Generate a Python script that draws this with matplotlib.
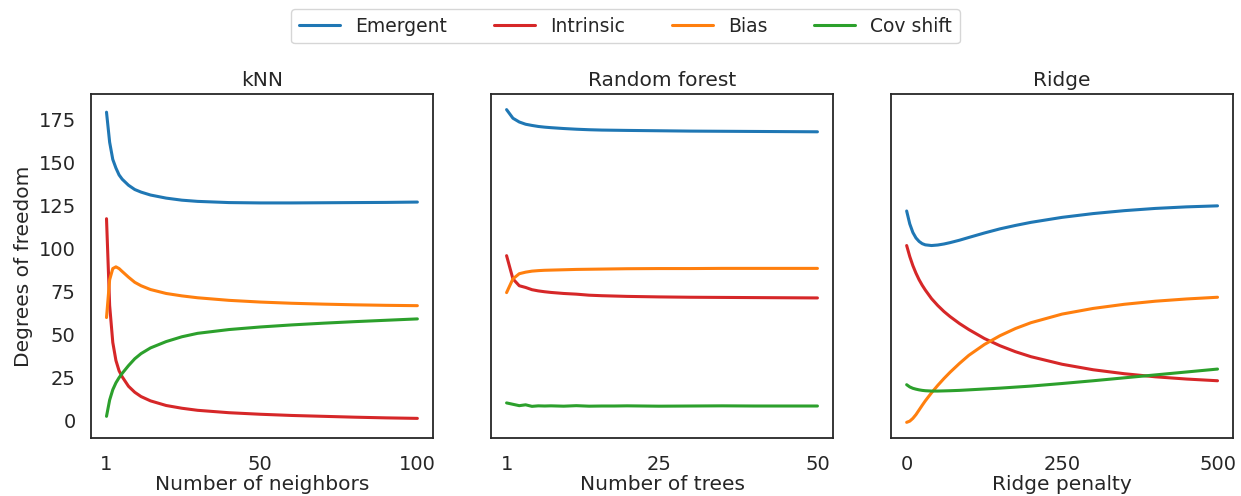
import numpy as np
import matplotlib
matplotlib.use("Agg")
import matplotlib.pyplot as plt
from matplotlib.ticker import MultipleLocator
import seaborn as sns

sns.set_theme(style="white")
plt.rcParams["font.family"] = ["DejaVu Sans"]

series = ["Emergent", "Intrinsic", "Bias", "Cov shift"]
colors = ["#1f77b4", "#d62728", "#ff7f0e", "#2ca02c"]

# kNN
knn_k = [1, 2, 3, 4, 5, 6, 8, 10, 12, 15, 20, 25, 30, 40, 50, 60, 70, 80, 90, 100]
knn_emergent = [179.5, 162, 152, 147, 143, 140.5, 137, 134.5, 133, 131.3, 129.5, 128.3,
                127.6, 126.9, 126.7, 126.7, 126.8, 126.9, 127, 127.2]
knn_intrinsic = [117.5, 67, 45.5, 35, 29, 25.5, 20, 16.5, 14, 11.5, 8.8, 7.2, 6, 4.6, 3.7,
                 3.0, 2.5, 2.0, 1.6, 1.3]
knn_bias = [60, 82, 88.5, 89.5, 88.5, 86.8, 83.5, 80.5, 78.5, 76.3, 74.0, 72.6, 71.5, 70.0,
            69.0, 68.3, 67.8, 67.4, 67.1, 66.9]
knn_cov = [2.5, 12, 18, 22, 25, 27.5, 32, 36, 39, 42.3, 46, 48.8, 50.8, 53.0, 54.5,
           55.7, 56.7, 57.6, 58.4, 59.2]

# Random forest
rf_n = [1, 2, 3, 4, 5, 6, 7, 8, 10, 12, 14, 16, 18, 20, 25, 30, 35, 40, 45, 50]
rf_emergent = [181, 176, 173.8, 172.5, 171.8, 171.2, 170.8, 170.5, 170, 169.6, 169.3, 169.1,
               169, 168.9, 168.7, 168.5, 168.4, 168.3, 168.2, 168.1]
rf_intrinsic = [96, 82.5, 78.5, 77.5, 76.2, 75.5, 75, 74.6, 74, 73.6, 73, 72.7, 72.5, 72.3,
                72, 71.8, 71.7, 71.6, 71.5, 71.4]
rf_bias = [74.5, 82.5, 85.5, 86.4, 87, 87.3, 87.5, 87.6, 87.8, 88, 88.1, 88.2, 88.3, 88.4,
           88.5, 88.5, 88.6, 88.6, 88.6, 88.6]
rf_cov = [10.3, 9.5, 8.7, 9.2, 8.3, 8.6, 8.5, 8.6, 8.4, 8.7, 8.4, 8.5, 8.5, 8.6, 8.4, 8.5,
          8.6, 8.5, 8.5, 8.5]

# Ridge
ridge_lam = [0, 5, 10, 15, 20, 25, 30, 40, 50, 60, 70, 85, 100, 125, 150, 175, 200, 250, 300,
             350, 400, 450, 500]
ridge_emergent = [122, 114.5, 109.5, 106.3, 104.3, 103, 102.3, 101.9, 102.2, 102.8, 103.6,
                  105, 106.6, 109.2, 111.6, 113.6, 115.4, 118.3, 120.5, 122.2, 123.5, 124.4, 125]
ridge_intrinsic = [101.9, 95.5, 90.2, 85.8, 82, 78.8, 76, 71, 67, 63.5, 60.5, 56.5, 53,
                   47.8, 43.6, 40.1, 37.2, 32.8, 29.6, 27.3, 25.5, 24.2, 23.2]
ridge_bias = [-1, -0.3, 1.3, 3.5, 6.2, 8.9, 11.5, 16.2, 20.5, 24.5, 28.2, 33.3, 38, 44.3,
              49.4, 53.6, 57.0, 62.0, 65.3, 67.7, 69.5, 70.8, 71.8]
ridge_cov = [20.9, 19.6, 18.8, 18.3, 17.9, 17.6, 17.4, 17.2, 17.2, 17.3, 17.4, 17.6, 17.9,
             18.4, 18.9, 19.5, 20.1, 21.6, 23.2, 24.9, 26.6, 28.3, 30]

panels = [
    ("kNN", "Number of neighbors", knn_k, [knn_emergent, knn_intrinsic, knn_bias, knn_cov], [1, 50, 100]),
    ("Random forest", "Number of trees", rf_n, [rf_emergent, rf_intrinsic, rf_bias, rf_cov], [1, 25, 50]),
    ("Ridge", "Ridge penalty", ridge_lam, [ridge_emergent, ridge_intrinsic, ridge_bias, ridge_cov], [0, 250, 500]),
]

fig, axes = plt.subplots(1, 3, figsize=(12.41, 4.96), dpi=100, sharey=True)
fig.subplots_adjust(left=0.0733, right=0.9936, top=0.8105, bottom=0.117, wspace=0.17)

for ax, (title, xlabel, x, ys, xt) in zip(axes, panels):
    for name, c, y in zip(series, colors, ys):
        ax.plot(x, y, color=c, lw=2.2, label=name)
    ax.set_title(title, fontsize=14.5)
    ax.set_xlabel(xlabel, fontsize=14.5, labelpad=1)
    ax.set_xticks(xt)
    ax.tick_params(axis="x", labelsize=14, pad=6)
    ax.tick_params(axis="y", labelsize=14, pad=5)
    for s in ax.spines.values():
        s.set_color("#262626")
        s.set_linewidth(1.3)

axes[0].yaxis.set_major_locator(MultipleLocator(25))
axes[0].set_ylabel("Degrees of freedom", fontsize=14.5, labelpad=4)

handles, labels = axes[0].get_legend_handles_labels()
fig.legend(handles, labels, loc="upper center", bbox_to_anchor=(0.504, 1.0), ncol=4,
           fontsize=13.5, frameon=True, columnspacing=2.5, handlelength=2.2)

fig.savefig("out.png", dpi=100)
